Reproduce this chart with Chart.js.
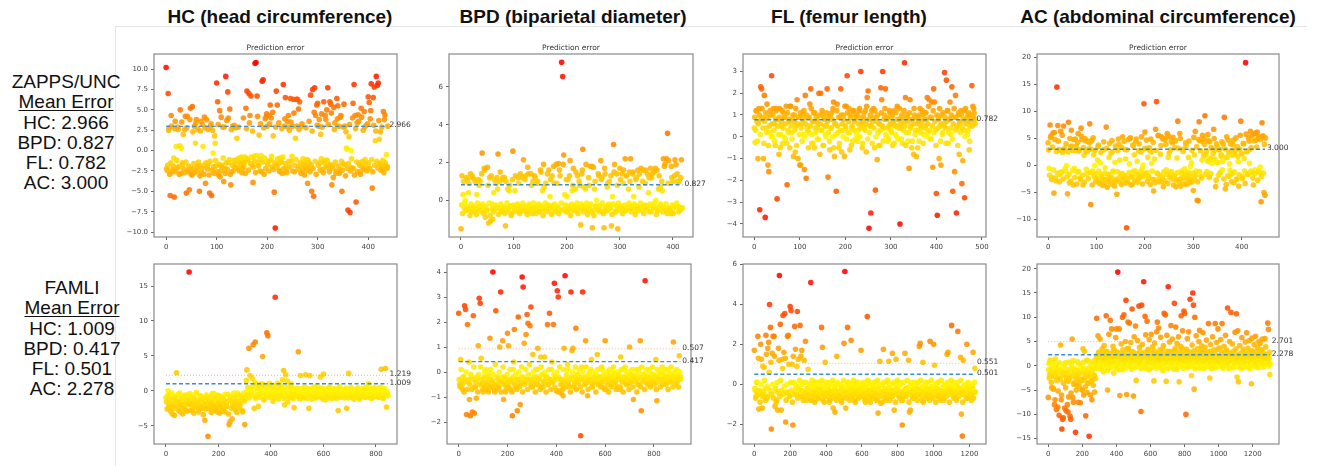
<!DOCTYPE html>
<html>
<head>
<meta charset="utf-8">
<script src="https://cdn.jsdelivr.net/npm/chart.js@4.4.0/dist/chart.umd.min.js"></script>
<style>
  body { margin: 0; background: #fff; width: 1319px; height: 466px; overflow: hidden; position: relative;
         font-family: "Liberation Sans", Arial, sans-serif; color: #111; }
  .col-title { position: absolute; top: 7px; font-weight: bold; font-size: 19px; line-height: 20px;
               white-space: nowrap; transform: translateX(-50%); }
  .side { position: absolute; width: 130px; text-align: center; font-size: 19px; line-height: 20.3px; }
  .side u { text-decoration: underline; text-underline-offset: 2px; text-decoration-thickness: 1px; }
  .frame-v { position: absolute; left: 115px; top: 26px; width: 1px; height: 440px; background: #e4e4e4; }
  .frame-h { position: absolute; left: 115px; top: 26px; width: 1192px; height: 1px; background: #e4e4e4; }
  canvas { position: absolute; }
</style>
</head>
<body>
<div class="frame-v"></div>
<div class="frame-h"></div>
<script>
// Measurements and summary numbers
const measures = ['HC', 'BPD', 'FL', 'AC'];
const measureTitles = ['HC (head circumference)', 'BPD (biparietal diameter)', 'FL (femur length)', 'AC (abdominal circumference)'];
const zappsMeanError = [2.966, 0.827, 0.782, 3.000];
const famliMeanError = [1.009, 0.417, 0.501, 2.278];
const famliErrorStd = [1.219, 0.507, 0.551, 2.701];

// Sample index spacing of the listed errors (x = sample index);
// the "...B" lists hold the samples half a step further on
const zappsStep = [2, 2, 2, 2];
const famliStep = [4, 4, 5, 4];

// Tick labels
const xTicksZapps = [0, 100, 200, 300, 400];
const xTicksZappsFL = [0, 100, 200, 300, 400, 500];
const xTicksFamli = [0, 200, 400, 600, 800];
const xTicksFamliLong = [0, 200, 400, 600, 800, 1000, 1200];
const yTicksHcZapps = [-10, -7.5, -5, -2.5, 0, 2.5, 5, 7.5, 10];
const yTicksBpdZapps = [0, 2, 4, 6];
const yTicksFlZapps = [-4, -3, -2, -1, 0, 1, 2, 3];
const yTicksAcZapps = [-10, -5, 0, 5, 10, 15, 20];
const yTicksHcFamli = [-5, 0, 5, 10, 15];
const yTicksBpdFamli = [-2, -1, 0, 1, 2, 3, 4];
const yTicksFlFamli = [-2, 0, 2, 4, 6];
const yTicksAcFamli = [-15, -10, -5, 0, 5, 10, 15, 20];

// Prediction errors, ZAPPS/UNC
const hcZapps = [
  10.2, -2.4, 7.0, 2.8, -5.5, 4.3, -2.6, -1.9, -5.7, 3.6,
  0.5, -2.1, 2.6, -2.9, 5.0, 0.3, -1.5, 2.0, -2.7, 4.2,
  -5.2, 4.2, -2.4, -4.8, 5.2, -2.9, 5.4, -2.2, 3.0, 0.9,
  3.8, -2.0, -1.4, -5.0, 2.4, -2.7, 3.2, -1.8, 4.1, -4.0,
  3.8, -2.3, -1.6, -5.2, 3.0, -5.5, 2.5, -2.0, 1.8, -1.2,
  8.3, 6.0, -3.0, 4.9, -2.5, -1.8, 2.9, -3.8, -2.2, 9.1,
  3.7, 7.2, -1.4, 5.1, -4.2, -2.6, 3.0, -1.2, -2.0, 2.8,
  1.5, -1.0, -2.3, -0.9, -1.6, -2.7, -1.3, -2.0, -0.8, 5.2,
  7.3, -1.2, 7.0, 4.3, 6.7, -1.8, -3.9, -0.7, 10.7, 10.8,
  6.7, -1.5, 1.9, -2.5, -0.6, 8.5, 8.7, -2.9, 3.9, 4.1,
  3.0, -1.3, 4.3, 5.6, 4.0, -2.0, 1.8, -5.1, -9.5, 7.3,
  5.6, -1.6, -2.4, -0.9, -1.4, -2.8, 8.1, 3.0, 6.5, -2.2,
  3.6, 4.3, 2.5, 6.4, -1.3, 3.0, 6.3, -2.6, 1.5, 6.3,
  6.3, 5.1, 6.0, -1.9, 3.0, -2.5, -1.4, -3.0, -2.0, -1.1,
  -4.0, -2.2, -1.6, 6.8, -5.0, 7.5, -5.6, 7.7, 4.3, 5.6,
  5.8, 3.0, -1.5, 2.0, 4.5, -2.3, 6.0, -1.2, 3.8, 5.0,
  7.7, -2.0, 6.0, 5.7, -4.2, -1.8, 5.3, 3.4, -2.8, 6.4,
  5.5, 3.0, -2.3, 4.3, -5.0, -1.6, 5.7, 3.0, 2.3, 0.2,
  -7.3, 1.7, -7.6, 0.0, -2.1, 5.8, 8.1, 4.3, -6.3, 3.4,
  4.4, -1.5, -2.6, 5.2, -2.0, 2.5, 4.8, -1.1, 3.1, -2.2,
  6.6, 5.9, 3.9, 8.2, -4.6, 6.5, 7.8, 1.2, 9.1, 8.0,
  8.3, 1.4, 2.3, -1.8, -2.3, 4.8, 3.8, -1.5, -0.5, -2.0
];
const hcZappsB = [
  -2.2, -1.8, 2.5, -2.9, -1.5, 3.0, -2.4, -0.9, 2.7, -2.6,
  -1.2, 2.9, -2.0, 0.6, -2.8, 3.5, -1.7, -2.3, 2.6, -1.4,
  2.8, -2.6, -1.9, 3.8, -2.3, -3.0, 2.3, -1.6, -2.7, 3.4,
  -2.5, 2.6, -1.8, -3.1, 3.6, -2.2, 0.5, -2.9, 2.8, -1.5,
  -2.0, 2.6, -3.0, -1.3, 3.3, -2.4, -0.3, -2.8, 0.9, -1.9,
  -2.6, 3.2, -1.7, -3.2, 4.1, -2.1, -0.9, 2.9, -2.8, -1.5,
  -2.3, 4.0, -1.1, -2.9, 2.6, -1.8, -2.5, 3.1, -1.4, -2.1,
  -1.2, 2.9, -2.5, -1.7, -0.8, -2.2, 4.0, -1.5, -2.8, 2.7,
  -1.0, -2.4, 3.4, -1.6, -0.8, 2.4, -2.0, -1.3, -2.7, -0.6,
  4.2, -1.9, -1.1, 3.3, -2.6, -1.4, 2.8, -0.9, -2.2, 4.5,
  -1.7, -2.5, 3.3, -1.2, -0.7, 4.7, -2.3, -1.5, 2.9, -1.9,
  -1.0, 3.4, -2.6, -1.4, 2.7, -0.8, -2.2, 3.9, -1.6, -2.7,
  2.9, -1.3, -2.0, 3.5, -0.7, -2.5, 4.6, -1.8, -1.1, 3.0,
  -2.3, 2.6, -1.5, -2.8, 3.3, -1.0, -2.1, -1.7, 2.8, -2.4,
  -1.2, 3.6, -2.6, -1.8, 2.4, -2.2, 4.7, -1.3, -2.9, 3.1,
  -1.8, 3.8, -2.4, -1.0, 2.9, -2.7, -1.5, 4.3, -2.0, -1.2,
  3.2, -2.6, -1.7, 4.6, -2.2, -3.3, 2.6, -1.4, -2.5, 3.9,
  -1.9, -2.8, 4.1, -1.3, -2.4, 2.9, -1.7, -3.1, 0.3, -2.2,
  -1.6, 3.2, -2.5, -1.0, 4.0, -2.2, -3.0, 2.7, -1.4, -2.6,
  3.6, -1.8, -2.9, 4.1, -1.3, -2.3, 2.9, -1.7, -2.5, 3.3,
  -1.5, -2.2, 4.9, -1.1, -2.6, 3.1, -1.8, 2.4, -1.3, -2.1,
  3.7, -1.6, -2.4, 2.9, -1.2, -2.7, 4.4, -1.9, -2.2, 3.0
];
const bpdZapps = [
  -1.5, 1.3, 0.3, -0.4, 0.0, -0.5, 1.1, 0.4, -0.5, 1.4,
  -0.6, 1.2, -0.3, 1.1, -0.5, 0.3, -0.4, 0.8, 1.0, -0.6,
  2.5, -0.4, 1.7, -0.9, -0.5, 1.75, -1.2, 1.2, -1.1, -0.2,
  -1.0, 0.4, -0.5, 0.9, 1.2, 2.45, -0.4, 1.5, -0.6, 1.1,
  -0.4, 1.2, -1.35, -0.5, 0.6, -0.4, 0.8, -0.7, -0.3, 2.6,
  -0.4, 0.5, -0.5, -0.3, 1.2, -0.6, 1.4, -0.3, -0.5, 2.15,
  -0.4, 1.3, -0.6, 1.75, -0.3, -0.5, 1.4, -0.7, 1.0, -0.4,
  1.2, -0.5, 0.9, -0.3, -0.6, 1.6, -0.4, 0.5, 1.9, -0.5,
  0.9, -0.4, -0.6, 1.6, 0.2, -0.3, 1.3, -0.5, 0.9, -0.4,
  1.9, -0.4, 1.95, 1.6, -0.5, 7.3, 6.55, 2.4, 0.3, -0.6,
  0.2, 1.1, -0.4, 2.1, -0.5, 0.5, 1.7, -0.3, 0.6, -0.5,
  1.3, -0.4, 0.8, -1.3, 1.4, 2.7, 0.7, -0.4, 1.9, -0.5,
  -0.4, 0.8, 1.8, -0.6, -1.45, 1.75, 0.6, -0.3, 0.0, -0.5,
  1.3, -0.4, 2.1, 1.2, -0.6, -1.45, 1.4, -0.3, 0.7, -0.5,
  1.0, -0.4, -1.35, 0.2, 2.95, 1.9, -0.6, 1.4, -1.5, -0.4,
  1.7, -0.3, 1.4, 0.9, -0.5, 2.2, 1.3, -0.4, 0.6, 1.5,
  2.2, -0.4, 1.4, 0.2, -0.5, 1.1, -0.3, 1.6, 0.7, -0.4,
  1.7, -0.5, 1.6, -0.3, 0.9, -0.4, 1.4, 0.4, -0.6, 1.7,
  1.2, -0.3, 1.5, -0.4, 0.0, 1.6, -0.5, 1.3, 0.7, -0.4,
  0.5, 2.2, 1.8, -0.5, 2.2, 3.55, 2.1, -0.4, -0.7, 1.2,
  1.0, -0.4, 2.15, 1.9, 1.4, -0.3, 1.0, -0.5, 2.15, -0.4
];
const bpdZappsB = [
  -0.25, -0.7, 1.0, -0.15, -0.55, 1.2, -0.35, 0.9, -0.8, -0.2,
  1.3, -0.45, -0.6, 1.0, -0.75, -0.15, 1.1, -0.5, -0.3, 1.4,
  -0.2, -0.7, 1.6, -0.35, -0.55, 0.8, -0.15, -0.8, 1.3, -0.45,
  -0.6, 1.1, -0.25, -0.4, 0.6, -0.75, 1.0, -0.2, -0.55, 1.2,
  -0.35, -0.7, 1.0, -0.15, -0.5, 0.5, -0.3, -0.8, 1.1, -0.25,
  -0.6, 1.3, -0.4, -0.2, 0.9, -0.7, -0.35, 1.2, -0.15, -0.55,
  1.1, -0.3, -0.75, 1.4, -0.2, -0.5, 0.8, -0.45, -0.15, 1.3,
  -0.7, -0.35, 1.0, -0.2, -0.6, 1.5, -0.3, -0.8, 0.7, -0.15,
  -0.55, 1.4, -0.25, -0.4, 1.1, -0.75, -0.3, 1.8, -0.2, -0.6,
  0.9, -0.35, -0.7, 1.3, -0.15, -0.5, 1.9, -0.45, -0.25, 1.1,
  -0.6, -0.3, 1.3, -0.8, -0.2, 0.8, -0.55, -0.35, 1.5, -0.15,
  -0.7, 1.0, -0.4, -0.2, 1.6, -0.6, -0.3, 0.6, -0.15, -0.75,
  1.2, -0.35, -0.2, 1.8, -0.55, -0.8, 1.0, -0.3, -0.45, 1.4,
  -0.6, -0.25, 1.1, -0.15, -0.7, 1.7, -0.4, -0.55, 0.9, -0.2,
  -0.35, 1.3, -0.75, -0.2, 1.5, -0.6, -0.3, 0.8, -0.15, -0.5,
  1.1, -0.4, -0.7, 1.6, -0.25, -0.55, 1.3, -0.35, -0.15, 1.0,
  -0.6, -0.3, 1.5, -0.2, -0.75, 1.2, -0.45, -0.55, 1.4, -0.15,
  -0.35, 1.0, -0.7, -0.25, 1.6, -0.5, -0.3, 1.2, -0.2, -0.6,
  1.4, -0.4, -0.15, 1.7, -0.75, -0.55, 0.6, -0.3, -0.2, 1.0,
  -0.6, -0.35, 1.9, -0.2, -0.7, 0.9, -0.45, -0.55, 1.8, -0.25,
  -0.7, 1.3, -0.3, -0.15, 1.0, -0.6, -0.4, 1.2
];
const flZapps = [
  0.4, -0.25, 1.2, 0.7, -1.0, 1.3, -3.35, 2.3, 2.2, 0.9,
  -1.0, 1.9, -3.7, 0.4, 1.5, -1.3, -1.6, 0.2, 1.0, 2.8,
  0.0, 1.3, 0.6, -0.4, 1.2, -2.85, 0.8, -0.8, 1.3, 0.1,
  0.5, -0.3, 1.1, 0.9, -0.1, 1.4, -2.2, 0.3, 0.7, -0.5,
  1.4, 0.2, 0.8, -0.9, 1.0, -0.7, 0.5, 1.7, -1.0, 0.9,
  -1.3, -1.3, 0.6, 1.0, 0.1, -1.5, 1.9, -1.9, 0.4, 0.9,
  0.2, 1.5, 2.2, -0.3, 0.7, 1.1, -0.5, 0.4, 0.9, -0.1,
  0.6, 2.0, -0.8, 2.0, 0.3, 1.0, -0.4, 0.8, 0.1, 0.5,
  2.2, -1.85, 0.9, -0.6, 0.4, 1.1, 0.0, 1.6, -0.9, 0.6,
  -2.5, 1.5, 0.2, -0.5, 0.9, 2.2, -0.7, 0.3, 1.0, -0.9,
  0.5, 1.4, 2.8, 0.2, 1.3, -0.6, 1.0, 0.4, -0.2, 1.2,
  0.7, -0.1, 0.9, 1.0, 0.3, 1.2, 0.0, 3.0, 0.6, -0.3,
  0.9, 0.4, 1.2, -0.7, 1.8, 2.1, -4.2, 0.5, -3.5, 1.2,
  0.7, 1.3, -0.5, -2.45, 0.9, -1.05, 0.2, 0.6, -0.4, 2.25,
  1.7, 3.0, 0.4, 1.0, 2.2, 0.0, 0.8, -0.2, 0.5, 1.1,
  0.3, 0.9, -0.4, 0.6, 1.2, 0.1, 0.5, 1.4, -0.1, 0.8,
  -4.0, 0.4, 1.0, -0.3, 0.7, 3.4, 1.8, 0.2, 0.9, -0.2,
  -1.45, 1.7, 0.5, -0.5, 0.8, -0.8, 1.0, 0.3, -0.9, 0.6,
  0.9, -0.2, 1.3, 0.4, 0.7, 1.0, 0.1, 1.1, 0.5, 0.8,
  1.8, 0.2, 1.7, 0.9, -0.1, 1.6, -1.4, 2.2, 1.6, 0.3,
  -2.6, -3.6, 0.9, -1.0, 0.5, -1.3, 1.0, 0.2, 0.6, 2.95,
  0.4, 2.6, 1.2, -0.3, 0.8, 1.6, 0.1, 2.3, -2.5, 0.9,
  -1.6, 1.9, -3.5, 0.4, 1.0, -0.8, 0.6, 1.2, -2.15, -1.1,
  0.3, -2.8, 1.3, 0.7, 0.1, 1.0, -0.6, 0.5, 0.9, 2.35,
  1.4, 1.3, 0.8
];
const flZappsB = [
  0.9, 0.3, 1.2, -0.2, 0.6, 1.0, 0.1, 0.8, 1.3, 0.4,
  -0.3, 0.7, 1.1, 0.2, 0.9, -0.4, 0.5, 1.2, 0.0, 0.6,
  1.0, 0.3, -0.2, 0.8, 1.3, 0.5, 0.1, 0.9, -0.5, 0.7,
  1.2, 0.4, 0.0, 0.9, 0.6, -0.3, 1.1, 0.2, 0.8, 1.4,
  0.5, -0.1, 1.0, 0.7, 0.3, 1.3, -0.4, 0.6, 0.9, 0.1,
  1.1, 0.4, -0.2, 0.8, 1.2, 0.0, 0.6, 1.0, 0.3, -0.5,
  0.9, 0.5, 1.3, 0.1, -0.3, 0.7, 1.1, 0.2, 0.8, 0.4,
  -0.1, 1.0, 0.6, 0.3, 1.2, -0.4, 0.9, 0.5, 0.0, 1.1,
  0.7, 0.2, -0.2, 1.0, 0.4, 0.8, 1.3, -0.5, 0.6, 0.1,
  1.2, 0.5, 0.9, -0.3, 0.3, 1.0, 0.6, 0.0, 0.8, 1.4,
  0.4, -0.1, 1.1, 0.7, 0.2, 0.9, -0.4, 0.5, 1.2, 0.3,
  0.8, 1.0, 0.1, -0.2, 0.6, 1.3, 0.4, 0.9, -0.5, 0.7,
  1.1, 0.3, 0.6, 1.4, -0.1, 0.8, 0.2, 1.0, 0.5, -0.3,
  0.9, 0.4, 1.2, 0.0, 0.7, 1.0, -0.4, 0.6, 0.3, 1.1,
  0.5, -0.2, 0.8, 1.3, 0.1, 0.9, 0.4, -0.1, 1.2, 0.6,
  0.2, 1.0, 0.7, -0.3, 0.5, 1.1, 0.0, 0.8, 0.4, 1.3,
  0.6, -0.1, 0.9, 0.3, 1.2, 0.5, -0.4, 1.0, 0.7, 0.2,
  1.1, 0.4, 0.8, -0.2, 0.6, 1.3, 0.1, 0.9, 0.3, -0.5,
  0.7, 1.0, 0.2, 0.5, 1.2, -0.3, 0.8, 0.4, 1.1, 0.0,
  0.6, 1.4, 0.3, -0.1, 0.9, 0.5, 1.2, 0.2, 0.7, -0.4,
  1.0, 0.4, 0.8, 1.3, -0.2, 0.6, 0.1, 1.1, 0.5, 0.9,
  -0.3, 0.7, 1.2, 0.2, 0.8, 0.4, 1.0, -0.1, 0.6, 1.3,
  0.3, 0.9, 0.5, -0.4, 1.1, 0.7, 0.2, 1.0, 0.4, 0.8,
  1.2, 0.0, 0.6, 0.9, 0.3, 1.1, -0.2, 0.7, 1.0, 0.5,
  0.9, 1.1, 0.6
];
const acZapps = [
  4.2, -0.5, 7.5, 5.5, -2.2, 6.0, -5.1, 4.8, -2.8, 14.5,
  7.4, 3.0, -1.6, 6.3, -1.2, 2.4, 7.3, 3.1, -1.0, 0.0,
  -5.2, 8.0, -3.2, 3.5, 6.5, 2.8, -3.6, -0.5, 4.9, 3.6,
  -1.2, 5.9, 2.7, -2.3, 6.9, 4.8, -3.6, 1.9, 5.0, 2.5,
  -1.5, 4.5, 3.1, 7.7, -7.2, 4.6, -1.0, 2.0, 0.0, -3.0,
  -2.3, 1.0, 3.8, -3.2, 0.5, -1.6, -2.5, 2.9, -3.3, -0.4,
  7.1, -4.0, -1.8, 1.5, -2.5, 2.3, 4.6, -1.0, -3.0, 0.6,
  -2.8, -5.3, 2.8, 3.9, 1.0, -1.5, -3.5, 5.3, -2.0, 3.0,
  1.2, -11.5, -3.0, 4.8, 0.3, 5.1, -2.0, -3.5, 3.6, 2.0,
  -1.0, 4.9, 0.8, -2.4, 4.0, -1.8, 2.5, -0.6, 0.1, 11.4,
  6.2, 3.2, -1.3, 1.5, -2.2, 2.8, 4.9, 0.4, -2.6, -4.7,
  1.2, 6.7, 11.8, -1.5, 5.6, -3.0, 2.1, 5.3, -2.2, -3.9,
  5.0, 4.8, -0.8, 5.9, 1.5, 2.3, -1.3, 4.5, -2.5, 5.2,
  -1.8, 3.3, -3.9, 1.4, 8.2, -2.6, 5.9, -3.8, -1.0, 3.0,
  -2.3, -0.6, 4.2, -3.5, -1.6, 1.5, -2.6, -0.2, 0.5, -3.0,
  -4.6, 2.0, 6.3, -1.0, -6.4, -6.5, 8.1, 4.6, -2.0, 1.0,
  4.4, 4.9, 9.2, 2.0, -1.1, 5.7, 0.7, 4.4, -1.5, 3.2,
  1.1, 6.7, 2.8, -3.9, 4.0, 0.5, -1.8, 3.0, -1.3, 2.0,
  -0.8, 3.9, 8.9, -4.3, -3.5, 1.5, 4.7, -2.0, -0.9, 2.7,
  -1.5, 3.8, -3.2, 2.1, 5.1, -2.5, 1.6, -3.8, 3.0, 8.2,
  2.2, -2.1, 4.0, -1.0, 19.0, 2.6, -1.5, 5.1, 0.4, 6.3,
  3.3, -1.3, -3.6, 5.9, -0.8, 4.7, 6.2, -1.2, 5.3, -0.3,
  -6.7, 7.9, 5.5, -5.0, -5.5
];
const acZappsB = [
  2.9, -1.8, 5.2, -2.6, 3.4, -0.8, 6.1, -2.3, 2.6, -1.4,
  4.5, -3.0, 2.8, -1.2, 5.6, -2.5, 3.1, -0.6, 4.0, -2.1,
  2.5, -1.6, 5.0, -2.9, 3.6, -0.9, 4.8, -2.2, 2.7, -3.4,
  4.3, -1.1, 2.9, -2.6, 5.4, -1.8, 3.3, -3.1, 4.6, -0.7,
  2.6, -2.4, 4.2, -1.3, 3.0, -3.6, 5.1, -2.0, 2.8, -1.5,
  -2.8, 3.5, -1.0, -3.3, 2.4, -2.1, -3.7, 4.4, -1.4, -2.6,
  3.2, -2.9, -1.6, 4.1, -3.4, -2.2, 2.6, -1.2, -3.8, 3.6,
  -2.5, -1.1, 4.9, -3.0, -2.0, 3.4, -1.5, -2.7, 4.5, -1.8,
  -3.2, 2.9, -2.4, -1.3, 5.0, -3.6, -2.1, 3.8, -1.0, -2.8,
  4.4, -1.7, -3.1, 2.7, -2.3, -1.2, 5.3, -3.4, -2.0, 3.1,
  -1.5, 4.7, -2.9, -1.9, 3.3, -3.5, 2.5, -1.0, 4.3, -2.6,
  -3.2, 2.8, -1.4, 5.5, -2.5, -1.8, 3.7, -3.0, 4.9, -1.2,
  -2.8, 3.9, -1.6, -3.3, 5.4, -2.2, 2.9, -1.1, 4.2, -3.6,
  -1.9, 4.6, -2.7, -1.3, 3.2, -3.1, 5.0, -2.4, -1.5, 2.6,
  -3.4, -1.8, 3.7, -2.6, -1.2, 4.5, -3.2, -2.0, 2.8, -1.4,
  5.2, -2.5, -1.7, 3.5, -3.0, 4.8, -1.1, 2.7, -2.3, 5.6,
  1.8, 3.9, -1.6, 2.6, 0.9, 4.6, -2.2, 1.4, 3.3, 0.4,
  2.2, 5.0, 1.2, -2.7, 3.6, 0.6, 2.9, -1.4, 1.7, 4.4,
  0.8, -2.5, 3.1, 1.5, 5.3, -1.9, 2.4, 0.3, 4.0, -3.0,
  1.9, 4.7, -1.2, 2.8, -2.6, 3.5, 0.7, -1.7, 5.6, 2.2,
  -2.4, 4.1, 1.3, -3.3, 5.8, 2.6, -1.6, 4.5, 3.0, -1.0,
  5.5, -2.3, 4.6, -1.5, 6.0, 3.4, -2.7, 5.2, -1.2, 4.8,
  -2.0, 5.3, -1.4, 3.9, 5.1
];

// Prediction errors, FAMLI
const hcFamli = [
  -1.0, -2.6, 0.0, -1.8, -0.5, -2.2, -3.3, -1.2, -3.5, -0.8,
  2.6, -1.5, -2.8, -0.3, -1.9, -1.1, -3.3, -2.4, -0.6, -1.7,
  -2.9, -1.3, 17.0, -0.4, -2.0, -2.7, -1.0, -1.6, -2.3, -0.2,
  -1.4, -3.0, -2.1, -0.7, -2.5, -1.2, -1.8, -4.2, -2.6, -0.9,
  -6.5, -1.5, -2.2, -3.1, -0.4, -1.9, -2.8, -1.1, -2.4, -0.6,
  -1.7, -3.2, -2.0, -0.8, -2.6, -1.3, -3.0, -1.6, -2.2, -0.5,
  -4.8, -4.4, -1.4, -4.0, -2.1, -0.9, -2.7, -1.5, -0.3, -1.9,
  -2.4, -0.7, -1.2, -3.0, -0.4, -4.8, -1.1, 3.0, 0.5, 6.1,
  2.2, -0.2, 1.8, 6.6, -2.5, 7.0, -0.8, 0.9, -2.2, 0.3,
  -0.5, 1.0, 4.9, -1.3, 0.6, -0.2, 8.3, 7.9, -0.9, 0.8,
  -0.3, 0.4, -1.5, 0.1, 13.4, -0.6, 1.1, -1.2, 0.2, -0.7,
  0.5, 1.6, 2.9, -2.0, 2.3, -0.4, -1.6, 0.6, -0.9, 1.0,
  -0.2, -1.1, -2.4, 0.3, -0.6, 0.0, 5.6, -0.8, 2.2, -0.3,
  0.4, -1.0, -0.1, 2.3, -0.5, 0.2, -2.5, 2.2, -0.7, -1.2,
  0.1, -0.4, 0.6, -1.0, -0.2, -0.6, 0.3, 2.0, -0.9, 0.0,
  2.4, -0.5, -1.3, 0.2, -0.3, -0.8, 0.5, -0.1, -1.1, 0.1,
  -0.4, -0.7, 0.3, -0.2, -2.8, 0.4, -0.9, -0.3, 0.0, -0.6,
  -1.0, 0.2, -2.5, -0.4, 2.5, -0.2, -0.8, 0.3, -0.5, -1.2,
  0.1, -0.6, -0.3, 0.4, -1.0, -0.2, 0.0, -0.7, 0.3, -0.4,
  -0.9, 0.1, -0.3, 1.0, -0.5, 0.2, -1.1, -0.2, 0.4, -0.6,
  -0.1, 0.3, -0.8, -0.4, 0.5, 3.1, -0.2, -1.0, 0.0, 3.2,
  -2.3, -0.4
];
const hcFamliB = [
  -1.6, -0.7, -2.3, -1.2, -2.9, -0.3, -1.9, -2.5, -1.0, -1.4,
  -2.2, -0.5, -1.7, -3.0, -1.1, -2.4, -0.8, -1.9, -2.7, -1.3,
  -0.6, -2.0, -1.5, -2.8, -0.9, -1.8, -3.2, -1.2, -0.4, -2.1,
  -1.7, -2.6, -0.8, -1.4, -2.2, -3.4, -1.0, -1.9, -0.6, -2.5,
  -1.3, -2.0, -0.9, -2.7, -1.6, -0.4, -2.3, -1.1, -3.0, -1.8,
  -0.7, -2.4, -1.4, -2.9, -1.0, -1.9, -0.5, -2.2, -1.5, -3.3,
  -1.2, -0.8, -2.5, -1.7, -0.3, -2.1, -1.0, -3.1, -1.6, -0.6,
  -2.0, -1.3, -2.8, -0.9, -1.5, -0.2, 1.5, -0.6, 0.4, -1.0,
  0.1, -0.7, 0.6, -0.3, 1.2, -1.1, 0.3, -0.5, 0.8, -0.9,
  0.2, -0.4, 0.9, -1.2, 0.0, -0.6, 0.5, -0.2, 1.1, -0.8,
  0.3, -0.5, 0.7, -1.0, 0.0, -0.3, 0.4, -0.7, 0.9, -0.1,
  -0.6, 0.2, -1.1, 0.5, -0.3, 1.4, -0.8, 0.1, -0.4, 0.6,
  -1.0, 0.0, -0.5, 0.3, -0.8, 0.4, -0.2, -1.2, 0.2, -0.6,
  0.1, -0.9, 0.5, -0.3, -1.1, 0.3, -0.5, 0.0, -0.7, 0.4,
  -0.2, -1.0, 0.2, -0.5, 0.6, -0.8, 0.0, -0.3, 0.4, -1.2,
  -0.4, 0.3, -0.7, 0.1, -1.0, 0.5, -0.2, -0.6, 0.2, -0.9,
  0.3, -0.5, -1.1, 0.1, -0.3, 0.6, -0.8, 0.0, -0.4, 0.2,
  -0.7, 0.4, -0.2, -1.0, 0.1, -0.5, 0.5, -0.9, 0.0, -0.3,
  0.2, -0.8, 0.4, -0.4, -1.2, 0.0, -0.6, 0.3, -0.2, -0.9,
  0.5, -0.3, -0.7, 0.1, -1.0, 0.3, -0.5, 0.0, -0.8, 0.4,
  -0.4, 0.2, -0.9, 0.0, -0.6, 0.4, -1.1, -0.2, 0.3, -0.5,
  -0.1, -0.7
];
const bpdFamli = [
  2.35, -0.5, 0.5, -0.3, -0.7, -0.2, 2.65, 2.5, -1.7, 1.9,
  -0.4, -1.1, -1.75, -0.2, -1.6, 2.25, -1.65, -0.6, -1.05, -0.3,
  1.05, 2.95, 2.75, 0.55, -0.5, -0.8, -0.2, -0.6, 0.1, -0.7,
  -0.4, -0.1, 1.35, -0.6, -0.3, 4.0, -0.5, -0.8, 2.45, -0.7,
  -0.3, -0.6, 1.0, 3.2, -0.4, 1.25, -1.1, -0.2, -0.8, -0.5,
  1.55, 1.05, -0.3, -0.7, -0.4, -1.75, 0.1, 1.7, -0.6, -0.3,
  -1.55, 2.2, -0.5, -1.3, -0.2, 3.8, 3.4, 1.15, -0.4, 1.5,
  2.3, 1.95, -0.3, 1.85, 2.6, -0.6, 0.7, -0.2, -0.4, 0.1,
  -0.5, 0.95, -0.3, -0.2, 0.6, -0.6, -0.1, -0.4, 0.6, -0.3,
  -0.2, 1.9, -0.5, 2.35, -0.3, 0.1, -0.4, 1.9, 3.55, -0.2,
  -0.75, 3.25, 3.0, -0.75, -0.3, -0.85, -0.5, -0.95, 0.95, 3.85,
  -0.2, -0.4, 0.1, -0.6, -0.3, 3.2, 0.85, 0.95, -0.2, -0.5,
  1.75, -0.3, -0.1, -0.4, -0.2, -2.55, 0.2, 3.2, -0.3, -0.5,
  1.25, -0.2, -0.95, -0.4, 0.0, -0.3, 0.5, -0.6, -0.2, -0.4,
  -0.3, -0.1, 0.7, -0.5, -0.2, -0.4, -0.3, 0.1, -0.6, -0.2,
  1.25, -0.7, -0.3, -0.1, -0.4, -0.2, -0.5, -0.3, 0.0, -0.2,
  -0.4, -0.1, -0.3, -0.6, -0.2, -0.7, 0.6, -0.3, 0.1, -0.4,
  -0.2, -0.3, 0.0, -0.5, -0.2, 1.0, -0.4, -0.1, -0.3, -1.1,
  -0.2, -0.4, -0.1, -0.3, 0.1, -0.5, 1.25, -1.55, -0.2, -0.3,
  -0.1, 3.65, -0.4, -0.2, -0.3, 0.1, -0.5, -0.2, -0.1, -0.4,
  -0.3, -0.2, 0.5, -1.15, -0.4, -0.1, -0.3, 0.0, -0.2, -0.5,
  -0.1, -0.3, -0.2, -0.4, 0.1, -0.2, -0.3, -0.1, -0.4, -0.2,
  1.2, -0.3, 0.0, -0.2, -0.4, -0.1, 0.65, -0.3
];
const bpdFamliB = [
  -0.3, -0.6, 0.1, -0.5, -0.2, -0.8, -0.4, 0.0, -0.7, -0.3,
  0.4, -0.5, -0.1, -0.7, -0.3, 0.2, -0.6, -0.4, -0.2, -0.8,
  -0.1, -0.5, 0.2, -0.3, -0.7, -0.4, 0.0, -0.6, -0.2, -0.5,
  -0.8, -0.3, 0.1, -0.6, -0.4, -0.1, -0.7, 0.3, -0.5, -0.2,
  -0.6, 0.0, -0.4, -0.8, -0.2, 0.2, -0.5, -0.3, -0.7, -0.1,
  -0.4, -0.6, 0.1, -0.3, -0.8, -0.2, 0.4, -0.5, -0.1, -0.7,
  -0.3, 0.0, -0.6, -0.4, 0.2, -0.8, -0.2, -0.5, 0.1, -0.3,
  -0.7, -0.1, 0.3, -0.5, -0.3, -0.6, 0.0, -0.4, -0.8, -0.2,
  0.1, -0.5, -0.3, -0.7, 0.2, -0.1, -0.6, -0.4, 0.0, -0.8,
  -0.2, -0.5, 0.1, -0.3, -0.7, 0.4, -0.4, -0.1, -0.6, -0.3,
  0.0, -0.8, -0.2, 0.2, -0.5, -0.3, -0.7, 0.1, -0.4, -0.6,
  -0.1, 0.3, -0.5, -0.3, -0.8, -0.2, 0.0, -0.6, -0.4, 0.2,
  -0.7, -0.1, -0.4, 0.1, -0.6, -0.3, -0.8, 0.0, -0.2, -0.5,
  0.2, -0.4, -0.7, -0.1, -0.3, 0.1, -0.6, -0.5, 0.0, -0.2,
  -0.8, -0.3, 0.1, -0.5, -0.2, -0.6, 0.2, -0.4, -0.1, -0.7,
  -0.3, 0.0, -0.5, -0.8, 0.1, -0.2, -0.6, -0.4, 0.2, -0.1,
  -0.5, -0.7, 0.0, -0.3, -0.1, -0.6, 0.1, -0.4, -0.8, -0.2,
  0.2, -0.5, -0.3, 0.0, -0.7, -0.1, -0.4, 0.1, -0.6, -0.2,
  -0.3, 0.1, -0.8, -0.5, 0.0, -0.2, -0.6, 0.2, -0.4, -0.1,
  -0.7, -0.3, 0.1, -0.5, -0.2, 0.0, -0.6, -0.4, 0.2, -0.1,
  -0.5, -0.2, -0.7, 0.1, -0.3, 0.0, -0.6, -0.1, 0.2, -0.4,
  -0.3, 0.1, -0.5, -0.2, -0.7, 0.0, -0.4, 0.2, -0.1, -0.6,
  -0.2, 0.0, -0.5, 0.1, -0.3, -0.6, 0.0, -0.2
];
const flFamli = [
  1.7, -0.3, -0.6, 0.1, 2.4, -1.25, -0.4, 2.0, 1.25, -1.2,
  -0.5, 0.85, -0.2, 2.45, -0.7, 1.8, 2.1, 4.0, 2.85, -2.25,
  1.55, 2.4, 2.4, -1.1, -0.3, -0.8, -1.3, 1.8, 5.45, 3.0,
  -1.3, 1.25, 3.45, 1.6, 3.55, -1.9, -0.4, 2.4, 2.45, -0.6,
  3.9, 3.7, 1.0, -2.05, 0.1, 2.9, 1.75, -0.5, 3.65, 1.25,
  -0.3, 2.95, 1.4, 1.7, -0.6, 0.1, -0.4, 2.15, -0.8, -0.2,
  0.75, -0.5, 0.0, 5.1, -0.8, -0.1, -0.4, -0.6, 0.1, -0.5,
  -0.3, -0.7, 0.1, -0.4, -0.2, 2.85, 1.85, -0.5, -0.9, 1.1,
  -0.4, 0.0, -0.6, -0.3, -0.8, 0.1, -0.5, -0.4, -1.2, -0.1,
  -1.4, -0.3, 1.4, -0.6, 0.0, -0.5, -0.8, -0.1, -0.7, -0.3,
  2.05, 5.65, -1.2, -0.4, 2.85, 0.1, -0.5, -0.3, 2.2, -0.6,
  -0.1, -0.4, -0.8, -0.2, 0.1, -0.3, -0.6, -0.1, -0.4, 1.7,
  -0.3, -0.5, 0.0, -0.6, -0.9, -0.1, 3.4, -0.3, -0.7, 0.1,
  -0.5, -0.3, -0.1, -0.6, -0.4, 0.1, -0.5, -0.8, -1.45, -0.1,
  1.15, -0.95, -0.4, 0.0, 1.75, -0.6, -0.3, -0.8, -0.5, 0.1,
  1.15, -0.2, -0.6, -0.3, 1.55, -0.5, -1.3, 0.0, 1.25, -0.4,
  -0.3, -0.6, 0.1, -0.5, -0.8, -2.05, -0.4, -0.3, 1.55, -0.6,
  -0.2, -0.4, 1.2, -1.4, -1.3, 0.1, -0.5, -0.3, -0.7, -0.2,
  -0.4, 0.0, -0.5, -0.3, 1.9, 2.05, -0.2, -0.8, 1.1, -0.4,
  -0.3, 0.1, -0.5, -0.2, -0.6, -0.4, 2.15, -0.3, -0.1, -0.7,
  2.0, 0.95, -0.2, -0.4, -0.6, 0.1, -0.3, -0.5, -0.8, -0.4,
  -0.3, -0.6, 0.0, -0.4, -0.2, 1.5, 1.6, -0.5, -0.3, -0.1,
  2.95, -0.4, 0.1, -0.6, -0.3, -0.7, -0.1, 2.65, -0.4, -0.2,
  1.35, -1.5, -2.6, 1.2, -0.3, -0.5, 0.0, 2.0, -0.7, -0.2,
  -0.3, -0.5, -0.8, -0.1, 1.6, -0.4, 0.8
];
const flFamliB = [
  -0.2, -0.7, 0.1, -0.5, 1.3, -0.3, -0.9, 0.0, -0.6, 0.9,
  -0.4, 0.2, -0.8, 1.5, -0.1, -0.6, 0.6, -0.3, 1.1, -0.5,
  0.0, -0.7, 1.4, -0.2, -0.9, 0.1, -0.4, 1.2, -0.6, 0.2,
  -0.3, 0.8, -0.5, -0.1, 1.3, -0.8, 0.0, -0.4, 1.0, -0.6,
  0.1, -0.3, -0.9, 1.4, -0.5, 0.0, -0.2, 0.9, -0.7, -0.1,
  0.2, -0.6, -0.3, 0.0, -0.8, 1.2, -0.4, 0.1, -0.6, -0.2,
  -0.5, 0.0, -0.8, -0.3, 0.2, -0.6, -0.1, -0.9, -0.4, 0.1,
  -0.2, -0.7, 0.0, -0.5, -0.3, 0.2, -0.8, -0.1, -0.6, -0.4,
  0.1, -0.5, -0.2, -0.9, 0.0, -0.4, -0.7, 0.2, -0.3, -0.6,
  -0.1, -0.8, 0.1, -0.4, -0.6, 0.0, -0.3, -0.9, -0.2, 0.2,
  -0.5, -0.1, -0.7, 0.1, -0.4, -0.2, -0.8, 0.0, -0.6, -0.3,
  0.2, -0.5, -0.9, -0.1, -0.4, 0.1, -0.7, -0.3, 0.0, -0.6,
  -0.2, 0.1, -0.5, -0.8, -0.1, -0.4, 0.2, -0.6, -0.3, -0.9,
  0.0, -0.4, -0.7, 0.1, -0.2, -0.5, -0.8, 0.2, -0.3, -0.1,
  -0.6, 0.0, -0.9, -0.4, 0.1, -0.2, -0.7, -0.5, 0.2, -0.3,
  -0.1, -0.8, 0.0, -0.4, -0.6, 0.1, -0.3, -0.9, -0.2, 0.2,
  -0.5, -0.1, -0.7, 0.0, -0.4, -0.8, 0.1, -0.3, -0.6, -0.2,
  0.2, -0.5, -0.9, -0.1, -0.4, 0.0, -0.7, -0.3, 0.1, -0.6,
  -0.2, -0.8, 0.1, -0.5, -0.3, 0.2, -0.6, -0.1, -0.9, -0.4,
  0.0, -0.7, -0.2, 0.1, -0.5, -0.8, -0.3, 0.2, -0.6, -0.1,
  -0.4, 0.0, -0.9, -0.2, 0.1, -0.6, -0.3, -0.7, 0.2, -0.5,
  -0.1, -0.8, 0.0, -0.4, -0.6, 0.1, -0.2, -0.9, -0.3, 0.2,
  -0.5, -0.1, -0.7, 0.0, -0.4, -0.8, 0.1, -0.2, -0.6, -0.3,
  0.2, -0.5, -0.9, -0.1, -0.4, 0.0, -0.7, -0.2, 0.1, -0.6,
  -0.3, 0.0, -0.5, -0.2, -0.7, 0.1, -0.4
];
const acFamli = [
  -6.5, 0.5, -1.8, 1.2, -0.5, -4.5, 0.8, -4.6, -2.0, -8.0,
  -7.0, -1.0, -9.0, 0.3, -8.5, -2.5, -10.2, -0.8, 4.3, -7.0,
  -13.0, -11.0, -10.7, -1.5, -8.7, 0.6, -9.2, -3.0, -8.0, -9.5,
  -6.4, -2.2, -10.4, -11.0, 0.2, 5.5, -6.5, -7.5, -3.5, -1.0,
  -13.7, -5.0, -2.8, 0.9, -7.5, -1.6, -4.2, -7.6, -0.4, -3.0,
  -5.0, 3.5, -6.0, 3.0, -2.4, -10.3, -0.9, -5.5, -3.6, 1.0,
  -14.5, -1.8, -6.0, -3.2, -7.0, 0.4, -4.0, -2.0, -5.4, -0.6,
  1.5, 9.8, 0.2, 6.2, 2.8, -0.5, 5.5, 1.8, 0.0, 3.5,
  1.0, -1.2, 4.2, 2.0, 0.5, 10.3, 3.0, -5.0, 1.3, 6.5,
  -0.4, 9.4, 2.4, 7.6, 0.8, 4.0, -1.5, 3.2, 1.6, 5.8,
  7.6, 0.3, 19.3, 2.6, 7.6, -6.1, 1.2, 4.5, -0.8, 10.0,
  2.2, 10.5, 0.6, 5.0, 13.5, -5.9, 3.5, 9.0, 1.4, 8.8,
  -0.2, 4.8, 2.9, 11.7, 0.9, -6.2, 6.0, 1.7, 8.2, -3.0,
  2.5, 5.2, 0.1, 12.3, 3.8, 1.1, -9.4, 12.5, 4.4, 0.5,
  17.3, 2.0, 10.2, 6.4, -0.6, 9.2, 3.1, 1.5, 5.4, 0.8,
  2.6, 6.5, -0.3, 3.9, 1.2, -3.1, 4.7, 2.0, 0.4, 7.0,
  9.0, 1.8, 7.8, 0.0, 3.3, 5.9, 1.0, 2.7, -1.0, 4.2,
  10.8, 1.6, 10.5, -3.2, 6.3, 2.3, 16.3, 0.7, 4.9, 3.0,
  8.3, 1.1, 5.5, 2.5, -0.7, 12.9, 3.6, 8.0, 1.3, 4.6,
  0.2, 6.0, -3.3, 2.9, 4.0, 10.3, 1.0, 7.2, 2.2, 11.3,
  10.8, 0.6, -10.0, 3.4, 5.6, 1.5, 7.0, 2.4, 13.7, 0.0,
  -2.0, 4.3, 15.0, 12.5, -4.8, 10.0, 2.0, 6.2, 0.9, 3.5,
  1.4, 5.0, 7.3, -0.5, 2.7, 4.1, 0.6, 6.8, 2.1, 1.0,
  3.8, -0.2, 5.3, 1.7, 2.9, 8.7, 0.4, -2.5, 4.4, 1.2,
  2.6, 6.0, 0.8, 3.3, 1.6, 8.7, -0.4, 4.8, 2.0, 7.6,
  1.1, 3.7, 0.2, 5.4, 2.4, 8.7, 1.5, 0.0, 4.0, 2.8,
  6.3, 0.7, 3.1, 11.9, 1.9, -0.6, 5.0, 2.3, 11.0, 0.9,
  4.5, 1.6, 3.0, 0.1, 6.9, 2.2, 10.7, -2.3, 7.2, -3.3,
  1.3, 4.2, 0.5, 2.6, 5.8, 1.0, 3.4, -0.3, 2.0, 4.9,
  1.7, 6.8, 0.3, 3.6, 2.4, 5.2, -0.5, 1.2, -3.7, 5.7,
  3.0, 0.8, 4.4, 2.1, 6.1, 1.4, -0.2, 3.8, 2.7, 5.0,
  0.6, 4.6, 1.9, 3.2, 5.5, 0.2, 2.5, 1.1, 5.6, 3.9,
  0.4, 2.2, 8.8, 7.5, 1.5, -1.8
];
const acFamliB = [
  -0.8, -2.5, 0.9, -1.6, -3.4, 0.2, -1.1, -4.8, -0.3, -2.2,
  1.4, -1.7, -3.0, -0.5, -5.2, -1.2, 0.6, -2.8, -0.9, -6.0,
  -1.9, -0.2, -3.6, -1.4, 0.4, -4.5, -2.3, -0.7, -1.5, -3.2,
  0.8, -2.6, -1.0, -5.6, -0.4, -2.0, 1.1, -3.8, -1.3, -0.6,
  -2.4, -4.0, -0.9, -1.8, 0.5, -3.3, -1.1, -2.7, -0.3, -5.0,
  -1.5, 0.7, -2.9, -0.6, -4.3, -1.7, 1.2, -2.2, -0.8, -3.5,
  -0.4, -2.1, 0.3, -1.3, -3.0, -0.7, 1.0, -1.9, -0.2, -2.6,
  0.6, 2.1, -0.4, 1.3, 2.7, 0.2, 1.8, -0.7, 2.4, 0.9,
  1.6, 0.1, 2.9, -0.5, 1.2, 2.3, 0.5, -0.9, 1.9, 2.6,
  0.7, 1.4, -0.3, 2.2, 0.9, 3.1, 0.0, 1.7, 2.5, -0.6,
  1.1, 2.8, 0.4, -0.8, 1.9, 0.6, 2.4, -0.2, 1.3, 3.3,
  0.2, 1.6, 2.7, -0.5, 1.0, 2.1, 0.5, 3.6, -0.1, 1.4,
  2.3, 0.8, -0.7, 1.8, 2.9, 0.3, 1.2, -0.4, 2.5, 0.9,
  1.5, -0.2, 2.2, 0.7, 3.0, 1.1, -0.6, 1.9, 0.4, 2.6,
  0.1, 1.7, 2.8, -0.3, 1.3, 0.6, 3.4, 1.0, -0.8, 2.0,
  1.2, 0.4, 2.6, -0.1, 1.6, 3.1, 0.8, 2.2, -0.5, 1.4,
  2.7, 0.0, 1.8, 0.9, -0.4, 2.4, 1.3, 3.5, 0.5, 1.9,
  -0.2, 2.1, 0.7, 1.5, 3.0, -0.6, 1.1, 2.6, 0.3, 1.7,
  2.9, 0.6, -0.3, 1.9, 1.0, 3.2, 0.2, 2.3, -0.7, 1.4,
  0.8, 2.5, 1.6, -0.1, 2.0, 0.4, 3.6, 1.2, -0.5, 2.7,
  1.5, 0.1, 2.2, 0.9, -0.4, 1.8, 2.9, 0.5, 1.3, -0.2,
  2.4, 1.0, 0.3, 3.1, 1.7, -0.6, 2.0, 0.7, 2.6, 1.2,
  -0.3, 1.9, 0.6, 2.8, 1.4, 0.0, 3.3, 1.1, -0.5, 2.1,
  0.9, 2.5, 1.6, -0.2, 2.2, 0.4, 1.3, 3.0, 0.8, -0.6,
  1.8, 0.2, 2.7, 1.0, -0.4, 2.3, 1.5, 0.6, 3.4, 1.1,
  -0.1, 2.0, 0.7, 1.6, 2.9, 0.3, -0.5, 1.9, 1.2, 2.5,
  0.5, 3.2, 1.4, -0.3, 2.1, 0.9, 1.7, 2.6, 0.1, 1.3,
  2.8, -0.4, 1.0, 2.2, 0.6, 3.5, 1.5, -0.2, 1.9, 0.8,
  2.4, 1.1, -0.6, 2.0, 0.4, 1.6, 3.0, 0.7, -0.1, 2.3,
  1.2, 0.0, 2.7, 1.8, -0.5, 0.9, 2.2, 1.4, 3.1, 0.3,
  1.7, 2.5, -0.2, 1.0, 2.9, 0.6, 1.5, -0.4, 2.1, 1.1,
  0.2, 2.6, 1.3, 3.3, 0.8, -0.3, 1.9, 2.4, 0.5, 1.6,
  2.0, 0.7, 1.2, -0.1, 2.8, 0.4
];

// Panel layout: plot box [left, top, right, bottom] in page pixels
const panels = [
  { box: [154, 54, 397, 237], title: true, values: hcZapps, valuesB: hcZappsB, step: zappsStep[0], x: [-24, 457], y: [-10.6, 11.85],
    xTicks: xTicksZapps, yTicks: yTicksHcZapps, yDec: 1, mean: zappsMeanError[0] },
  { box: [449, 54, 693, 237], title: true, values: bpdZapps, valuesB: bpdZappsB, step: zappsStep[1], x: [-22.6, 438], y: [-1.94, 7.74],
    xTicks: xTicksZapps, yTicks: yTicksBpdZapps, yDec: 0, mean: zappsMeanError[1] },
  { box: [743, 54, 986, 237], title: true, values: flZapps, valuesB: flZappsB, step: zappsStep[2], x: [-24.8, 509], y: [-4.6, 3.8],
    xTicks: xTicksZappsFL, yTicks: yTicksFlZapps, yDec: 0, mean: zappsMeanError[2] },
  { box: [1037, 54, 1279, 237], title: true, values: acZapps, valuesB: acZappsB, step: zappsStep[3], x: [-23, 477], y: [-13.2, 20.6],
    xTicks: xTicksZapps, yTicks: yTicksAcZapps, yDec: 0, mean: zappsMeanError[3] },
  { box: [154, 264, 397, 444], title: false, values: hcFamli, valuesB: hcFamliB, step: famliStep[0], x: [-45.7, 880], y: [-7.6, 18.15],
    xTicks: xTicksFamli, yTicks: yTicksHcFamli, yDec: 0, mean: famliMeanError[0], std: famliErrorStd[0] },
  { box: [447, 264, 691, 444], title: false, values: bpdFamli, valuesB: bpdFamliB, step: famliStep[1], x: [-48, 952], y: [-2.88, 4.32],
    xTicks: xTicksFamli, yTicks: yTicksBpdFamli, yDec: 0, mean: famliMeanError[1], std: famliErrorStd[1] },
  { box: [743, 264, 986, 444], title: false, values: flFamli, valuesB: flFamliB, step: famliStep[2], x: [-63, 1292], y: [-3.0, 6.03],
    xTicks: xTicksFamliLong, yTicks: yTicksFlFamli, yDec: 0, mean: famliMeanError[2], std: famliErrorStd[2] },
  { box: [1037, 264, 1279, 444], title: false, values: acFamli, valuesB: acFamliB, step: famliStep[3], x: [-66, 1354], y: [-16.1, 20.97],
    xTicks: xTicksFamliLong, yTicks: yTicksAcFamli, yDec: 0, mean: famliMeanError[3], std: famliErrorStd[3] }
];

const AXIS_W = 40, AXIS_H = 22, PAD_TOP = 22, PAD_RIGHT = 45;
const tickFont = { family: 'DejaVu Sans', size: 7 };

// Format tick number with a real minus sign
function formatTick(v, dec) {
  const s = Math.abs(v).toFixed(dec);
  return v < 0 ? '\u2212' + s : s;
}

// Error colour: yellow for small error, red for the largest
function errorColor(v, maxAbs) {
  const g = Math.round(245 * Math.pow(1 - Math.abs(v) / maxAbs, 1.15));
  return `rgba(255, ${g}, 0, 0.88)`;
}

// Box, subplot title and reference line labels
const panelDecor = {
  id: 'panelDecor',
  afterDraw(chart, args, opts) {
    const { ctx, chartArea: a, scales } = chart;
    ctx.save();
    ctx.strokeStyle = '#8a8a8a';
    ctx.lineWidth = 1.2;
    ctx.strokeRect(a.left, a.top, a.right - a.left, a.bottom - a.top);
    ctx.fillStyle = '#333';
    ctx.font = '7.5px "DejaVu Sans"';
    if (opts.title) {
      ctx.textAlign = 'center';
      ctx.textBaseline = 'alphabetic';
      ctx.fillText('Prediction error', (a.left + a.right) / 2, a.top - 4);
    }
    ctx.textAlign = 'left';
    ctx.textBaseline = 'middle';
    opts.labels.forEach(l => {
      ctx.fillText(l.text, scales.x.getPixelForValue(l.x) + 2, scales.y.getPixelForValue(l.value) - 1);
    });
    ctx.restore();
  }
};

// Column titles
measureTitles.forEach((t, i) => {
  const div = document.createElement('div');
  div.className = 'col-title';
  div.style.left = [280, 573, 849, 1158][i] + 'px';
  div.textContent = t;
  document.body.appendChild(div);
});

// Side labels with mean errors
function sideLabel(name, means, left, top) {
  const div = document.createElement('div');
  div.className = 'side';
  div.style.left = left + 'px';
  div.style.top = top + 'px';
  div.innerHTML = `${name}<br><u>Mean Error</u><br>` +
    measures.map((m, i) => `${m}: ${means[i].toFixed(3)}`).join('<br>');
  document.body.appendChild(div);
}
sideLabel('ZAPPS/UNC', zappsMeanError, 1, 72);
sideLabel('FAMLI', famliMeanError, 7, 278);

// Draw one panel
function drawPanel(p) {
  const [bl, bt, br, bb] = p.box;
  const canvas = document.createElement('canvas');
  canvas.width = br - bl + AXIS_W + PAD_RIGHT;
  canvas.height = bb - bt + PAD_TOP + AXIS_H;
  canvas.style.left = (bl - AXIS_W) + 'px';
  canvas.style.top = (bt - PAD_TOP) + 'px';
  document.body.appendChild(canvas);

  const points = p.values.map((v, i) => ({ x: i * p.step, y: v }))
    .concat(p.valuesB.map((v, i) => ({ x: i * p.step + p.step / 2, y: v })));
  const lastX = (p.values.length - 1) * p.step;
  const maxAbs = Math.max(...points.map(pt => Math.abs(pt.y)));

  const datasets = [{
    data: [{ x: 0, y: p.mean }, { x: lastX, y: p.mean }],
    showLine: true, borderColor: '#3d8bd0', borderWidth: 1.4, borderDash: [4, 2.5],
    pointRadius: 0, order: 0
  }];
  const labels = [{ text: p.mean.toFixed(3), x: lastX, value: p.mean }];
  if (p.std !== undefined) {
    datasets.push({
      data: [{ x: 0, y: p.mean + p.std }, { x: lastX, y: p.mean + p.std }],
      showLine: true, borderColor: 'rgba(245, 160, 100, 0.8)', borderWidth: 1, borderDash: [1, 2],
      pointRadius: 0, order: 0
    });
    labels.push({ text: p.std.toFixed(3), x: lastX, value: p.mean + p.std });
  }
  datasets.push({
    data: points,
    pointRadius: 2.8,
    pointBorderWidth: 0,
    pointBackgroundColor: points.map(pt => errorColor(pt.y, maxAbs)),
    order: 1
  });

  const axisGrid = { display: true, drawOnChartArea: false, drawTicks: true, tickLength: 3, color: '#666' };

  new Chart(canvas.getContext('2d'), {
    type: 'scatter',
    data: { datasets },
    options: {
      responsive: false,
      animation: false,
      events: [],
      layout: { autoPadding: false, padding: { left: 0, top: PAD_TOP, right: PAD_RIGHT, bottom: 0 } },
      scales: {
        x: {
          type: 'linear', min: p.x[0], max: p.x[1],
          afterBuildTicks: s => { s.ticks = p.xTicks.map(v => ({ value: v })); },
          afterFit: s => { s.height = AXIS_H; },
          grid: axisGrid,
          border: { display: false },
          ticks: { font: tickFont, color: '#444', padding: 3, maxRotation: 0, autoSkip: false,
                   callback: v => formatTick(v, 0) }
        },
        y: {
          type: 'linear', min: p.y[0], max: p.y[1],
          afterBuildTicks: s => { s.ticks = p.yTicks.map(v => ({ value: v })); },
          afterFit: s => { s.width = AXIS_W; },
          grid: axisGrid,
          border: { display: false },
          ticks: { font: tickFont, color: '#444', padding: 3, autoSkip: false,
                   callback: v => formatTick(v, p.yDec) }
        }
      },
      plugins: {
        legend: { display: false },
        tooltip: { enabled: false },
        panelDecor: { title: p.title, labels }
      }
    },
    plugins: [panelDecor]
  });
}

panels.forEach(drawPanel);
</script>
</body>
</html>
